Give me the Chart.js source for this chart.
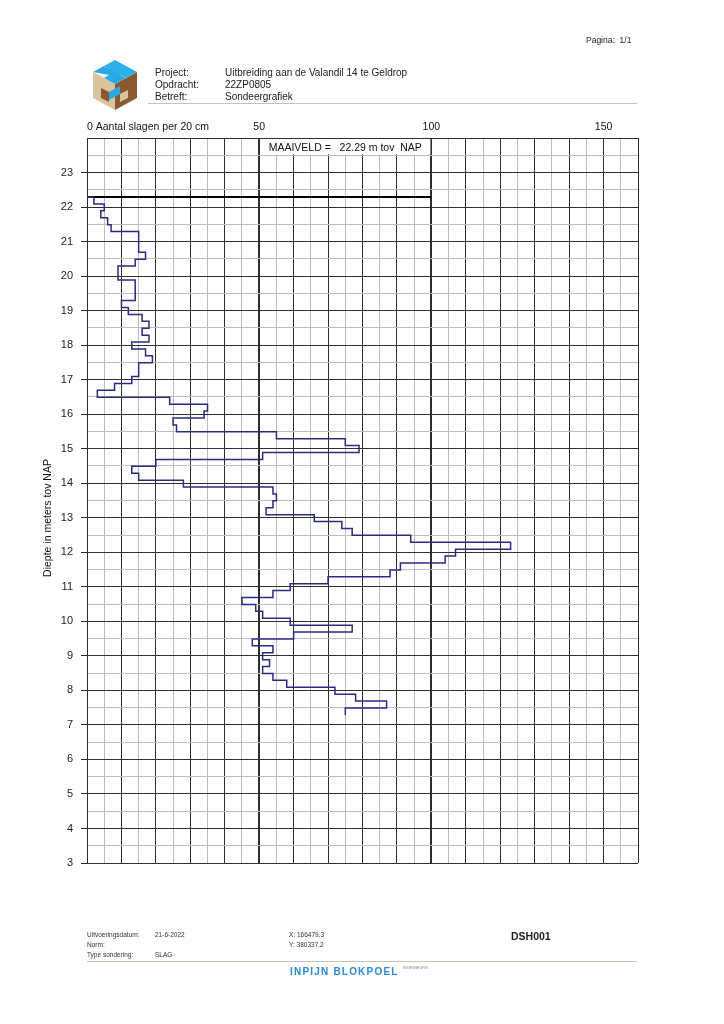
<!DOCTYPE html>
<html>
<head>
<meta charset="utf-8">
<script src="https://cdn.jsdelivr.net/npm/chart.js@4.4.1/dist/chart.umd.min.js"></script>
<style>
  html, body { margin: 0; padding: 0; background: #fff; overflow: hidden; }
  #page { position: relative; width: 724px; height: 1024px; font-family: "Liberation Sans", Arial, sans-serif; color: #222; }
  #chartBox { position: absolute; left: 0; top: 0; width: 724px; height: 1024px; }
  .t { position: absolute; white-space: pre; line-height: 12px; }
  .hd { font-size: 10px; }
  .ft { font-size: 6.5px; line-height: 10px; color: #333; }
  .rule { position: absolute; height: 1px; background: #c9c1b1; }
</style>
</head>
<body>
<div id="page">
  <div id="chartBox"><canvas id="myChart"></canvas></div>

  <div class="t" style="left:586px;top:34px;font-size:8.5px;">Pagina:  1/1</div>

  <svg style="position:absolute;left:92px;top:58px" width="48" height="54" viewBox="0 0 48 54">
    <polygon points="1,14 23,26 23,52 1,40" fill="#d8c4a0"/>
    <polygon points="23,26 45,14 45,40 23,52" fill="#8a5a2e"/>
    <polygon points="1,14 12,8 17,11 23,8 34,14 28,17 34,20 23,26 12,20 17,17" fill="#29a9e1"/>
    <polygon points="23,2 34,8 45,14 34,20 23,14 12,8" fill="#2bb0e8"/>
    <polygon points="9,30 17,34 17,44 9,40" fill="#8a5a2e"/>
    <polygon points="17,34 28,28 28,36 17,42" fill="#29a9e1"/>
    <polygon points="28,36 36,32 36,40 28,44" fill="#d8c4a0"/>
  </svg>

  <div class="t hd" style="left:155px;top:67px;">Project:</div>
  <div class="t hd" style="left:155px;top:79px;">Opdracht:</div>
  <div class="t hd" style="left:155px;top:91px;">Betreft:</div>
  <div class="t hd" style="left:225px;top:67px;">Uitbreiding aan de Valandil 14 te Geldrop</div>
  <div class="t hd" style="left:225px;top:79px;">22ZP0805</div>
  <div class="t hd" style="left:225px;top:91px;">Sondeergrafiek</div>
  <div class="rule" style="left:148px;top:103px;width:489px;"></div>

  <div class="t ft" style="left:87px;top:930px;">Uitvoeringsdatum:</div>
  <div class="t ft" style="left:87px;top:940px;">Norm:</div>
  <div class="t ft" style="left:87px;top:950px;">Type sondering:</div>
  <div class="t ft" style="left:155px;top:930px;">21-6-2022</div>
  <div class="t ft" style="left:155px;top:950px;">SLAG</div>
  <div class="t ft" style="left:289px;top:930px;">X: 166479.3</div>
  <div class="t ft" style="left:289px;top:940px;">Y: 380337.2</div>
  <div class="t" style="left:511px;top:930px;font-size:10.5px;font-weight:bold;">DSH001</div>
  <div class="rule" style="left:87px;top:961px;width:550px;"></div>
  <div class="t" style="left:290px;top:966px;font-size:10px;font-weight:bold;color:#2a8bd3;letter-spacing:1.2px;">INPIJN BLOKPOEL</div>
  <div class="t" style="left:403px;top:962px;font-size:4px;color:#888;">INGENIEURS</div>
</div>

<script>
// maaiveld en laagdikte
const maaiveld = 22.29;
const laag = 0.2;
const maaiveldTot = 100;

// aantal slagen per 20 cm, vanaf maaiveld naar beneden
const slagen = [
  2, 5, 4, 6, 7, 15, 15, 15, 17, 14,
  9, 9, 14, 14, 14, 10, 12, 16, 18, 16,
  18, 13, 17, 19, 15, 15, 13, 8, 3, 24,
  35, 34, 25, 26, 55, 75, 79, 51, 20, 13,
  15, 28, 54, 55, 54, 52, 66, 74, 77, 94,
  123, 107, 104, 91, 88, 70, 59, 54, 45, 49,
  51, 59, 77, 60, 48, 54, 51, 53, 51, 54,
  58, 72, 78, 87, 75
];

// labels boven de grafiek
const xLabelWaarden = [0, 50, 100, 150];
const xLabelTeksten = ['0 Aantal slagen per 20 cm', '50', '100', '150'];

const donker = '#2e2e2e';
const grijs = '#bdbdbd';
const lijnKleur = '#2b2b80';
const font = '"Liberation Sans", Arial, sans-serif';

let punten = [{ x: 0, y: maaiveld }];
slagen.forEach((s, i) => {
  punten.push({ x: s, y: +(maaiveld - laag * (i + 1)).toFixed(2) });
});

const extraTekst = {
  id: 'extraTekst',
  beforeDatasetsDraw(chart) {
    const ctx = chart.ctx;
    const xs = chart.scales.x, ys = chart.scales.y;
    // witte box voor maaiveld label
    const x1 = xs.getPixelForValue(50), x2 = xs.getPixelForValue(100);
    const y1 = ys.getPixelForValue(24), y2 = ys.getPixelForValue(23.5);
    ctx.save();
    ctx.fillStyle = '#fff';
    ctx.fillRect(x1 + 1, y1 + 1, x2 - x1 - 2, y2 - y1 - 2);
    ctx.fillStyle = '#111';
    ctx.font = '10.5px ' + font;
    ctx.textAlign = 'center';
    ctx.textBaseline = 'middle';
    ctx.fillText('MAAIVELD =   ' + maaiveld.toFixed(2) + ' m tov  NAP', (x1 + x2) / 2, (y1 + y2) / 2 + 1);
    ctx.restore();
  },
  afterDraw(chart) {
    const ctx = chart.ctx;
    const xs = chart.scales.x;
    const area = chart.chartArea;
    ctx.save();
    ctx.fillStyle = '#111';
    ctx.font = '10.5px ' + font;
    ctx.textBaseline = 'middle';
    xLabelWaarden.forEach((v, i) => {
      ctx.textAlign = i === 0 ? 'left' : 'center';
      ctx.fillText(xLabelTeksten[i], xs.getPixelForValue(v), area.top - 11);
    });
    // as titel
    ctx.translate(area.left - 39, area.top + 380);
    ctx.rotate(-Math.PI / 2);
    ctx.textAlign = 'center';
    ctx.font = '10.5px ' + font;
    ctx.fillText('Diepte in meters tov NAP', 0, 0);
    ctx.restore();
  }
};

new Chart(document.getElementById('myChart'), {
  type: 'scatter',
  data: {
    datasets: [
      {
        data: punten,
        showLine: true,
        stepped: 'before',
        borderColor: lijnKleur,
        borderWidth: 1.5,
        pointRadius: 0,
        fill: false
      },
      {
        data: [{ x: 0, y: maaiveld }, { x: maaiveldTot, y: maaiveld }],
        showLine: true,
        borderColor: '#000',
        borderWidth: 2,
        pointRadius: 0,
        fill: false
      }
    ]
  },
  options: {
    responsive: true,
    maintainAspectRatio: false,
    animation: false,
    layout: { padding: { left: 0, right: 86, top: 138, bottom: 161 } },
    plugins: { legend: { display: false }, tooltip: { enabled: false } },
    scales: {
      x: {
        type: 'linear',
        position: 'top',
        min: 0,
        max: 160,
        ticks: { stepSize: 5, display: false, autoSkip: false },
        grid: {
          drawTicks: false,
          color: c => (c.tick.value % 10 === 0 ? donker : grijs),
          lineWidth: c => (c.tick.value === 50 || c.tick.value === 100 ? 2 : 1)
        },
        border: { color: donker },
        afterFit: s => { s.height = 0; }
      },
      y: {
        type: 'linear',
        min: 3,
        max: 24,
        ticks: {
          stepSize: 0.5,
          autoSkip: false,
          padding: 8,
          color: '#222',
          font: { family: font, size: 11 },
          callback: v => (Number.isInteger(v) && v < 24 ? v : '')
        },
        grid: {
          tickLength: 6,
          color: c => (Number.isInteger(c.tick.value) ? donker : grijs),
          tickColor: c => (Number.isInteger(c.tick.value) && c.tick.value < 24 ? donker : 'rgba(0,0,0,0)')
        },
        border: { color: donker },
        afterFit: s => { s.width = 87; }
      }
    }
  },
  plugins: [extraTekst]
});
</script>
</body>
</html>
